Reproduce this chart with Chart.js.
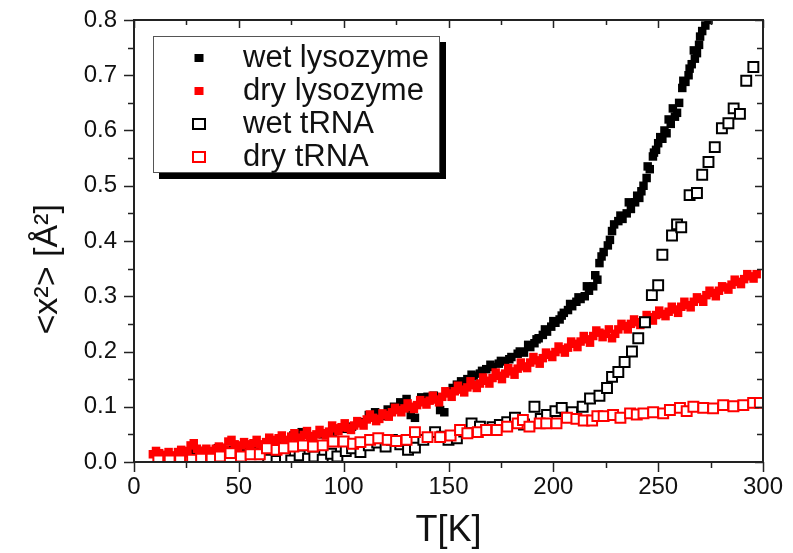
<!DOCTYPE html>
<html lang="en">
<head>
<meta charset="UTF-8">
<title>Mean square displacement vs temperature</title>
<script src="https://cdn.jsdelivr.net/npm/chart.js"></script>
<style>
    body { margin: 0; background: #fff; }
    #wrap { position: relative; width: 793px; height: 553px; }
    #legend {
        position: absolute; left: 153px; top: 36px; width: 287px; height: 137px;
        box-sizing: border-box; border: 1px solid #555; background: #fff;
        box-shadow: 6px 6px 0 #000; padding-top: 4px;
    }
    .row { position: relative; height: 33px; font: 31px "Liberation Sans", Arial, sans-serif; color: #111; }
    .row .mk { position: absolute; top: 50%; transform: translate(-50%, -50%); left: 45px; box-sizing: border-box; }
    .row .tx { position: absolute; left: 89px; top: 50%; transform: translateY(-54%); white-space: nowrap; line-height: 1; }
</style>
</head>
<body>
<div id="wrap">
    <canvas id="chart" width="793" height="553"></canvas>
    <div id="legend"></div>
</div>
<script>
// wet lysozyme (filled black)
const wetLysoT = [22, 28, 34, 40, 46, 52, 58, 64, 70, 76, 80, 85, 90, 95, 100, 104, 108, 112, 115, 118,
    121, 124, 127, 130, 132, 134, 137, 140, 143, 146, 148, 151, 154, 156, 159, 162, 165, 168, 171, 174,
    177, 180, 183, 186, 189, 191, 193, 195, 197, 199, 201, 203, 205, 207, 209, 211, 213, 215, 217, 219,
    221, 222, 224, 226, 227, 229, 231, 233, 235, 237, 239, 241, 243, 244.5, 246, 247.5, 249, 250, 252, 254,
    256, 258, 259, 260, 261.5, 263, 264.5, 266, 267.5, 268.5, 269.5, 271, 272.5, 274, 275,
    152, 157, 161, 166, 170, 175, 179, 184, 188, 192, 196, 200, 204, 208, 212, 216, 220, 223, 228, 232,
    236, 240, 242, 245, 248, 251, 253, 255, 257, 262, 265, 267, 270];
const wetLysoV = [0.012, 0.018, 0.020, 0.025, 0.022, 0.027, 0.030, 0.035, 0.040, 0.048, 0.054, 0.045, 0.050, 0.055, 0.060, 0.064, 0.072, 0.085, 0.090, 0.083,
    0.095, 0.100, 0.108, 0.114, 0.085, 0.080, 0.117, 0.118, 0.120, 0.094, 0.090, 0.128, 0.140, 0.146, 0.150, 0.155, 0.160, 0.168, 0.172, 0.178,
    0.182, 0.190, 0.196, 0.198, 0.208, 0.215, 0.224, 0.230, 0.236, 0.245, 0.252, 0.258, 0.270, 0.275, 0.282, 0.290, 0.295, 0.300, 0.310, 0.318,
    0.330, 0.360, 0.380, 0.392, 0.402, 0.430, 0.436, 0.440, 0.450, 0.458, 0.470, 0.478, 0.500, 0.514, 0.530, 0.553, 0.565, 0.577, 0.585, 0.595,
    0.612, 0.625, 0.632, 0.650, 0.677, 0.688, 0.700, 0.720, 0.730, 0.740, 0.755, 0.780, 0.790, 0.800, 0.815,
    0.134, 0.142, 0.158, 0.165, 0.176, 0.183, 0.186, 0.200, 0.212, 0.222, 0.240, 0.255, 0.265, 0.286, 0.298, 0.318, 0.338, 0.372, 0.418, 0.446,
    0.470, 0.482, 0.490, 0.535, 0.560, 0.588, 0.600, 0.620, 0.640, 0.690, 0.712, 0.745, 0.770];

// dry lysozyme (filled red)
const dryLysoT = [9, 12, 15, 18, 21, 24, 27, 30, 33, 36, 39, 42, 45, 48, 51, 54, 57, 60, 63, 66,
    69, 72, 75, 78, 81, 84, 87, 90, 93, 96, 99, 102, 105, 108, 111, 114, 117, 120, 123, 126,
    129, 132, 135, 138, 141, 144, 147, 150, 153, 156, 159, 162, 165, 168, 171, 174, 177, 180, 183, 186,
    189, 192, 195, 198, 201, 204, 207, 210, 213, 216, 219, 222, 225, 228, 231, 234, 237, 240, 243, 246,
    249, 252, 255, 258, 261, 264, 267, 270, 273, 276, 279, 282, 285, 288, 291, 294, 297];
const dryLysoV = [0.014, 0.016, 0.013, 0.012, 0.018, 0.020, 0.030, 0.024, 0.018, 0.020, 0.024, 0.026, 0.037, 0.032, 0.030, 0.032, 0.034, 0.032, 0.036, 0.040,
    0.043, 0.040, 0.046, 0.044, 0.049, 0.047, 0.050, 0.052, 0.055, 0.061, 0.063, 0.062, 0.066, 0.070, 0.077, 0.080, 0.078, 0.085, 0.090, 0.094,
    0.097, 0.100, 0.103, 0.108, 0.111, 0.113, 0.118, 0.124, 0.128, 0.131, 0.135, 0.139, 0.142, 0.147, 0.152, 0.156, 0.160, 0.164, 0.169, 0.173,
    0.180, 0.184, 0.188, 0.194, 0.199, 0.204, 0.207, 0.214, 0.218, 0.222, 0.228, 0.234, 0.232, 0.224, 0.240, 0.246, 0.250, 0.253, 0.256, 0.262,
    0.266, 0.268, 0.272, 0.276, 0.281, 0.284, 0.290, 0.295, 0.302, 0.306, 0.310, 0.316, 0.321, 0.326, 0.331, 0.336, 0.340];
// second interleaved scan of dry lysozyme (gives the band its thickness)
const dryLyso2T = [10.5, 13.5, 16.5, 19.5, 22.5, 25.5, 28.5, 31.5, 34.5, 37.5, 40.5, 43.5, 46.5, 49.5, 52.5, 55.5, 58.5, 61.5, 64.5, 67.5,
    70.5, 73.5, 76.5, 79.5, 82.5, 85.5, 88.5, 91.5, 94.5, 97.5, 100.5, 103.5, 106.5, 109.5, 112.5, 115.5, 118.5, 121.5, 124.5, 127.5,
    130.5, 133.5, 136.5, 139.5, 142.5, 145.5, 148.5, 151.5, 154.5, 157.5, 160.5, 163.5, 166.5, 169.5, 172.5, 175.5, 178.5, 181.5, 184.5, 187.5,
    190.5, 193.5, 196.5, 199.5, 202.5, 205.5, 208.5, 211.5, 214.5, 217.5, 220.5, 223.5, 226.5, 229.5, 232.5, 235.5, 238.5, 241.5, 244.5, 247.5,
    250.5, 253.5, 256.5, 259.5, 262.5, 265.5, 268.5, 271.5, 274.5, 277.5, 280.5, 283.5, 286.5, 289.5, 292.5, 295.5];
const dryLyso2V = [0.020, 0.012, 0.018, 0.010, 0.022, 0.016, 0.034, 0.020, 0.024, 0.016, 0.028, 0.022, 0.040, 0.026, 0.036, 0.028, 0.040, 0.030, 0.044, 0.036,
    0.048, 0.038, 0.052, 0.042, 0.056, 0.044, 0.058, 0.048, 0.066, 0.056, 0.070, 0.058, 0.074, 0.066, 0.086, 0.074, 0.088, 0.082, 0.098, 0.090,
    0.106, 0.096, 0.112, 0.104, 0.120, 0.108, 0.128, 0.118, 0.138, 0.126, 0.146, 0.134, 0.153, 0.142, 0.162, 0.150, 0.170, 0.158, 0.180, 0.170,
    0.190, 0.178, 0.198, 0.190, 0.209, 0.198, 0.218, 0.208, 0.228, 0.216, 0.238, 0.226, 0.240, 0.232, 0.250, 0.240, 0.258, 0.248, 0.266, 0.256,
    0.274, 0.264, 0.281, 0.270, 0.290, 0.280, 0.298, 0.290, 0.310, 0.300, 0.318, 0.312, 0.330, 0.322, 0.340, 0.332];

// wet tRNA (open black)
const wetRnaT = [64, 68, 72, 75, 79, 83, 86, 90, 94, 97, 101, 104, 108, 112, 116, 120, 123, 127, 130.7, 134,
    138, 143.6, 147, 150, 154, 157.5, 161, 165, 168, 171, 174.5, 178, 181.7, 186, 191, 194, 197, 201, 204, 209,
    214, 217.5, 222, 225.6, 228, 231, 234, 237.5, 240.5, 243.7, 247, 250, 252, 256.6, 259, 261, 265, 268.5, 271, 274,
    277, 280.4, 283.5, 286, 289, 292, 295.4];
const wetRnaV = [0.004, 0.002, 0.008, 0.003, 0.012, 0.006, 0.010, 0.004, 0.015, 0.010, 0.020, 0.025, 0.018, 0.030, 0.035, 0.028, 0.040, 0.032, 0.022, 0.026,
    0.040, 0.054, 0.046, 0.040, 0.043, 0.055, 0.070, 0.064, 0.058, 0.063, 0.067, 0.072, 0.080, 0.068, 0.100, 0.078, 0.085, 0.092, 0.098, 0.090,
    0.100, 0.115, 0.120, 0.134, 0.154, 0.163, 0.181, 0.200, 0.224, 0.253, 0.302, 0.320, 0.375, 0.410, 0.430, 0.425, 0.483, 0.487, 0.520, 0.543,
    0.570, 0.604, 0.613, 0.640, 0.630, 0.690, 0.715];

// dry tRNA (open red)
const dryRnaT = [11.6, 17, 22, 27.7, 32, 37, 41, 46, 51, 55.6, 60, 63.4, 68, 71.5, 76, 80.6, 85.4, 90, 95, 100,
    104.5, 108, 112.6, 116.5, 121, 125, 130, 134, 140, 146, 151, 155.5, 159, 164, 168, 173, 178, 183, 185.5, 188.6,
    193.5, 196.6, 201.5, 206.5, 211, 214.5, 218.5, 221, 224, 228.5, 232, 236.6, 239.8, 243, 247.6, 252.4, 255.6, 260.4, 263.6, 266.8,
    271.5, 276.2, 281, 285.9, 290.6, 295.3, 298.5];
const dryRnaV = [0.003, 0.003, 0.003, 0.004, 0.006, 0.006, 0.010, 0.016, 0.010, 0.014, 0.014, 0.025, 0.022, 0.025, 0.028, 0.030, 0.028, 0.030, 0.037, 0.037,
    0.033, 0.036, 0.040, 0.043, 0.040, 0.038, 0.040, 0.054, 0.045, 0.045, 0.048, 0.058, 0.052, 0.054, 0.058, 0.058, 0.064, 0.070, 0.076, 0.064,
    0.070, 0.070, 0.070, 0.080, 0.078, 0.075, 0.075, 0.083, 0.083, 0.085, 0.080, 0.088, 0.086, 0.088, 0.090, 0.088, 0.094, 0.098, 0.092, 0.100,
    0.098, 0.097, 0.103, 0.101, 0.103, 0.107, 0.107];

const xTicks = [0, 50, 100, 150, 200, 250, 300];
const yTicks = [0, 0.1, 0.2, 0.3, 0.4, 0.5, 0.6, 0.7, 0.8];

const FONT = '"Liberation Sans", Arial, sans-serif';
const pts = (t, v) => t.map((x, i) => ({x: x, y: v[i]}));

const datasets = [
    {label: 'wet lysozyme', data: pts(wetLysoT, wetLysoV), backgroundColor: '#000', borderColor: '#000', borderWidth: 0, pointRadius: 6, order: 3, open: false},
    {label: 'dry lysozyme', data: pts(dryLysoT, dryLysoV).concat(pts(dryLyso2T, dryLyso2V)), backgroundColor: '#ff0000', borderColor: '#ff0000', borderWidth: 0, pointRadius: 6, order: 2, open: false},
    {label: 'wet tRNA', data: pts(wetRnaT, wetRnaV), backgroundColor: '#fff', borderColor: '#000', borderWidth: 2, pointRadius: 7, order: 1, open: true},
    {label: 'dry tRNA', data: pts(dryRnaT, dryRnaV), backgroundColor: '#fff', borderColor: '#ff0000', borderWidth: 2, pointRadius: 7, order: 0, open: true}
];
datasets.forEach(d => { d.pointStyle = 'rect'; d.showLine = false; d.clip = 1; });

// box frame + Origin-style ticks (out on bottom/left, in on top/right)
const frameTicks = {
    id: 'frameTicks',
    afterDraw(chart) {
        const {ctx, chartArea: a, scales: {x, y}} = chart;
        ctx.save();
        ctx.strokeStyle = '#222';
        ctx.lineWidth = 2;
        ctx.strokeRect(a.left, a.top, a.right - a.left, a.bottom - a.top);
        ctx.lineWidth = 1.5;
        ctx.beginPath();
        for (let i = 0; i <= 12; i++) {
            const px = Math.round(x.getPixelForValue(i * 25)) + 0.5;
            const major = i % 2 === 0;
            ctx.moveTo(px, a.bottom); ctx.lineTo(px, a.bottom + (major ? 10 : 6));
            ctx.moveTo(px, a.top); ctx.lineTo(px, a.top + (major ? 8 : 5));
        }
        for (let i = 0; i <= 16; i++) {
            const py = Math.round(y.getPixelForValue(i * 0.05)) + 0.5;
            const major = i % 2 === 0;
            ctx.moveTo(a.left, py); ctx.lineTo(a.left - (major ? 10 : 6), py);
            ctx.moveTo(a.right, py); ctx.lineTo(a.right - (major ? 8 : 6), py);
        }
        ctx.stroke();
        ctx.restore();
    }
};

new Chart(document.getElementById('chart'), {
    type: 'scatter',
    data: {datasets: datasets},
    options: {
        responsive: false,
        animation: false,
        events: [],
        layout: {padding: {left: 0, top: 20, right: 30, bottom: 0}},
        plugins: {legend: {display: false}, tooltip: {enabled: false}},
        scales: {
            x: {
                type: 'linear', min: 0, max: 300,
                afterBuildTicks: s => { s.ticks = xTicks.map(v => ({value: v})); },
                afterFit: s => { s.height = 91; s.paddingLeft = 0; s.paddingRight = 0; },
                grid: {display: false, drawTicks: false},
                border: {display: false},
                ticks: {color: '#111', font: {family: FONT, size: 24}, padding: 11, maxRotation: 0},
                title: {display: true, text: 'T[K]', color: '#111', font: {family: FONT, size: 36}, padding: {top: 0, bottom: 0}}
            },
            y: {
                type: 'linear', min: 0, max: 0.8,
                afterBuildTicks: s => { s.ticks = yTicks.map(v => ({value: v})); },
                afterFit: s => { s.width = 134; s.paddingTop = 0; s.paddingBottom = 0; },
                grid: {display: false, drawTicks: false},
                border: {display: false},
                ticks: {color: '#111', font: {family: FONT, size: 24}, padding: 17, callback: v => Number(v).toFixed(1)},
                title: {display: true, text: '<x\u00b2> [\u00c5\u00b2]      ', color: '#111', font: {family: FONT, size: 34}, padding: {top: 27, bottom: 0}}
            }
        }
    },
    plugins: [frameTicks]
});

// legend box with drop shadow, built from the datasets
const legend = document.getElementById('legend');
datasets.forEach(d => {
    const row = document.createElement('div');
    row.className = 'row';
    const mk = document.createElement('span');
    mk.className = 'mk';
    if (d.open) {
        mk.style.width = '14px'; mk.style.height = '12px';
        mk.style.border = '2px solid ' + d.borderColor;
        mk.style.background = '#fff';
    } else {
        mk.style.width = '9px'; mk.style.height = '8px';
        mk.style.background = d.backgroundColor;
    }
    const tx = document.createElement('span');
    tx.className = 'tx';
    tx.textContent = d.label;
    row.appendChild(mk);
    row.appendChild(tx);
    legend.appendChild(row);
});
</script>
</body>
</html>
